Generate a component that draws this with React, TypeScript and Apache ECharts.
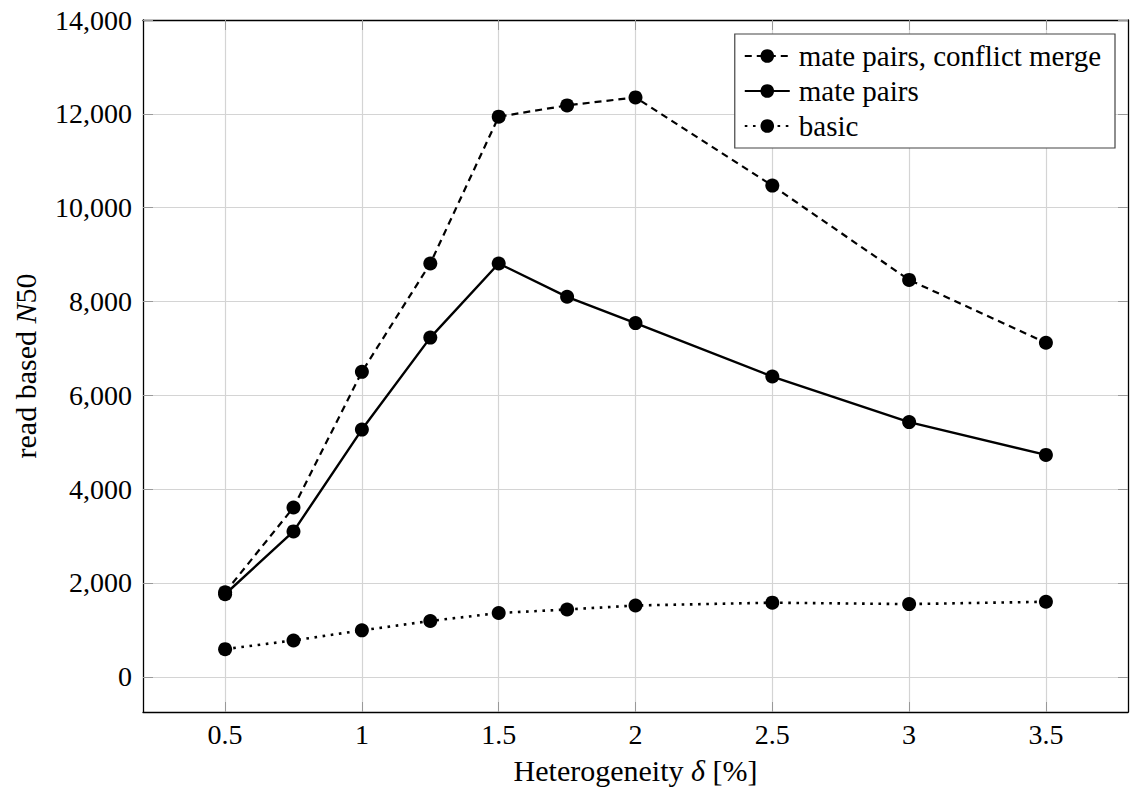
import React, { useEffect, useRef } from "react";
import * as echarts from "echarts";

const xValues = [0.5, 0.75, 1, 1.25, 1.5, 1.75, 2, 2.5, 3, 3.5];
const conflictMerge = [1800, 3610, 6500, 8810, 11940, 12180, 12350, 10470, 8460, 7120];
const matePairs = [1760, 3100, 5270, 7230, 8810, 8100, 7540, 6400, 5430, 4730];
const basic = [590, 775, 990, 1190, 1360, 1435, 1520, 1580, 1550, 1600];
const xTicks = [0.5, 1, 1.5, 2, 2.5, 3, 3.5];
const yTicks = [0, 2000, 4000, 6000, 8000, 10000, 12000, 14000];
const seriesNames = ["mate pairs, conflict merge", "mate pairs", "basic"];

const FONT = "Liberation Serif";

export default function App() {
  const ref = useRef<HTMLDivElement>(null);
  useEffect(() => {
    document.body.style.margin = "0";
    const chart = echarts.init(ref.current!, null, { renderer: "svg" });
    const pts = (arr: number[]) => xValues.map((x, i) => [x, arr[i]]);
    const common = {
      type: "line",
      symbol: "circle",
      symbolSize: 14,
      itemStyle: { color: "#000" },
      xAxisIndex: 0,
      yAxisIndex: 0,
    };
    const boxAxis = {
      axisLine: { show: true, onZero: false, lineStyle: { color: "#000", width: 1.3 } },
      axisTick: { show: true, inside: true, length: 10, lineStyle: { color: "#999", width: 1 } },
      axisLabel: { show: false },
      splitLine: { show: false },
    };
    const nameStyle = {
      fontFamily: FONT,
      fontSize: 30,
      color: "#000",
      rich: { i: { fontFamily: FONT, fontSize: 30, fontStyle: "italic", color: "#000" } },
    };
    chart.setOption({
      animation: false,
      textStyle: { fontFamily: FONT, color: "#000" },
      grid: { left: 143, top: 20, right: 2, bottom: 79, containLabel: false, outerBoundsMode: "none" },
      legend: {
        data: seriesNames,
        orient: "vertical",
        right: 15,
        top: 34,
        padding: [7, 14, 7, 9],
        itemGap: 5,
        itemWidth: 45,
        itemHeight: 17,
        backgroundColor: "#fff",
        borderColor: "#444",
        borderWidth: 1.2,
        borderRadius: 0,
        textStyle: { fontFamily: FONT, fontSize: 29, color: "#000", lineHeight: 30, padding: [0, 0, 0, 4] },
        z: 10,
      },
      xAxis: [
        {
          type: "value",
          min: 0.2,
          max: 3.8,
          position: "bottom",
          name: "Heterogeneity {i|δ} [%]",
          nameLocation: "middle",
          nameGap: 43,
          nameTextStyle: nameStyle,
          axisLine: { show: true, onZero: false, lineStyle: { color: "#000", width: 1.3 } },
          axisTick: {
            show: true,
            inside: true,
            length: 10,
            customValues: xTicks,
            lineStyle: { color: "#999", width: 1 },
          },
          axisLabel: {
            customValues: xTicks,
            fontFamily: FONT,
            fontSize: 28,
            color: "#000",
            margin: 8,
            formatter: (v: number) => String(v),
          },
          splitLine: { show: true, lineStyle: { color: "#d4d4d4", width: 1.2 } },
        },
        {
          type: "value",
          min: 0.2,
          max: 3.8,
          position: "top",
          ...boxAxis,
          axisTick: { ...boxAxis.axisTick, customValues: xTicks },
        },
      ],
      yAxis: [
        {
          type: "value",
          min: -750,
          max: 14000,
          position: "left",
          name: "read based {i|N}50",
          nameLocation: "middle",
          nameGap: 103,
          nameTextStyle: nameStyle,
          axisLine: { show: true, onZero: false, lineStyle: { color: "#000", width: 1.3 } },
          axisTick: {
            show: true,
            inside: true,
            length: 10,
            customValues: yTicks,
            lineStyle: { color: "#999", width: 1 },
          },
          axisLabel: {
            customValues: yTicks,
            fontFamily: FONT,
            fontSize: 28,
            color: "#000",
            margin: 11,
            formatter: (v: number) => v.toLocaleString("en-US"),
          },
          splitLine: { show: true, lineStyle: { color: "#d4d4d4", width: 1.2 } },
        },
        {
          type: "value",
          min: -750,
          max: 14000,
          position: "right",
          ...boxAxis,
          axisTick: { ...boxAxis.axisTick, customValues: yTicks },
        },
      ],
      series: [
        {
          ...common,
          name: seriesNames[0],
          data: pts(conflictMerge),
          lineStyle: { color: "#000", width: 2.2, type: [7, 5] },
        },
        {
          ...common,
          name: seriesNames[1],
          data: pts(matePairs),
          lineStyle: { color: "#000", width: 2.4, type: "solid" },
        },
        {
          ...common,
          name: seriesNames[2],
          data: pts(basic),
          lineStyle: { color: "#000", width: 2.6, type: [2.6, 5.6] },
        },
      ],
    });
    return () => chart.dispose();
  }, []);
  return <div ref={ref} style={{ width: 1130, height: 791 }} />;
}
